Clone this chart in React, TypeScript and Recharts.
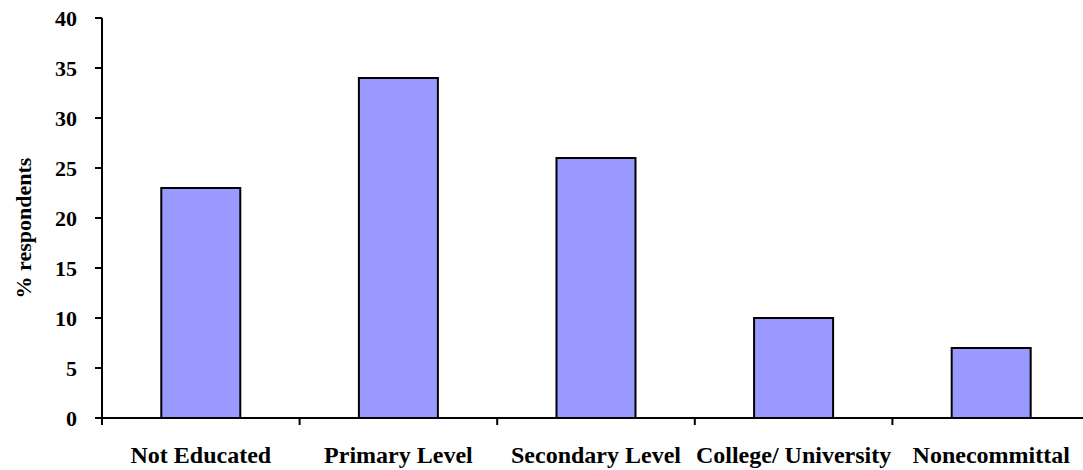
import { Bar, BarChart, Label, XAxis, YAxis } from 'recharts'

const categories = ['Not Educated', 'Primary Level', 'Secondary Level', 'College/ University', 'Nonecommittal']
const respondents = [23, 34, 26, 10, 7]
const yTicks = [0, 5, 10, 15, 20, 25, 30, 35, 40]

const data = categories.map((name, i) => ({ name, value: respondents[i] }))

const CHART_W = 1095
const CHART_H = 470
const AXIS_W = 102
const MARGIN = { top: 18, right: 5, left: 0, bottom: 0 }
const BAND = (CHART_W - AXIS_W - MARGIN.right - MARGIN.left) / categories.length
const FONT = '"Liberation Serif", "Times New Roman", serif'

function CategoryTick(props: any) {
  const { x, payload } = props
  const axisY = CHART_H - 52
  const left = x - BAND / 2
  return (
    <g>
      <line x1={left} y1={axisY} x2={left} y2={axisY + 7} stroke="#000" strokeWidth={2} />
      <text
        x={x}
        y={axisY + 45}
        textAnchor="middle"
        fontFamily={FONT}
        fontWeight="bold"
        fontSize={24}
        fill="#000"
      >
        {payload.value}
      </text>
    </g>
  )
}

function AxisTitle(props: any) {
  const { viewBox } = props
  const cy = viewBox.y + viewBox.height / 2 + 10
  return (
    <text
      x={23}
      y={cy}
      transform={`rotate(-90, 23, ${cy})`}
      textAnchor="middle"
      dominantBaseline="central"
      fontFamily={FONT}
      fontWeight="bold"
      fontSize={22}
      fill="#000"
    >
      % respondents
    </text>
  )
}

export default function App() {
  return (
    <div style={{ position: 'absolute', left: 0, top: 0, width: 1083, height: 470, overflow: 'hidden', background: '#fff' }}>
      <BarChart width={CHART_W} height={CHART_H} data={data} margin={MARGIN} barCategoryGap="30%">
        <XAxis
          dataKey="name"
          height={52}
          interval={0}
          tickLine={false}
          axisLine={{ stroke: '#000', strokeWidth: 2 }}
          tick={<CategoryTick />}
        />
        <YAxis
          width={AXIS_W}
          domain={[0, 40]}
          ticks={yTicks}
          interval={0}
          tickSize={7}
          tickMargin={18}
          axisLine={{ stroke: '#000', strokeWidth: 2 }}
          tickLine={{ stroke: '#000', strokeWidth: 2 }}
          tick={{ fontFamily: FONT, fontWeight: 'bold', fontSize: 22, fill: '#000' }}
        >
          <Label content={<AxisTitle />} />
        </YAxis>
        <Bar dataKey="value" fill="#9999FF" stroke="#000" strokeWidth={2} isAnimationActive={false} />
      </BarChart>
    </div>
  )
}
